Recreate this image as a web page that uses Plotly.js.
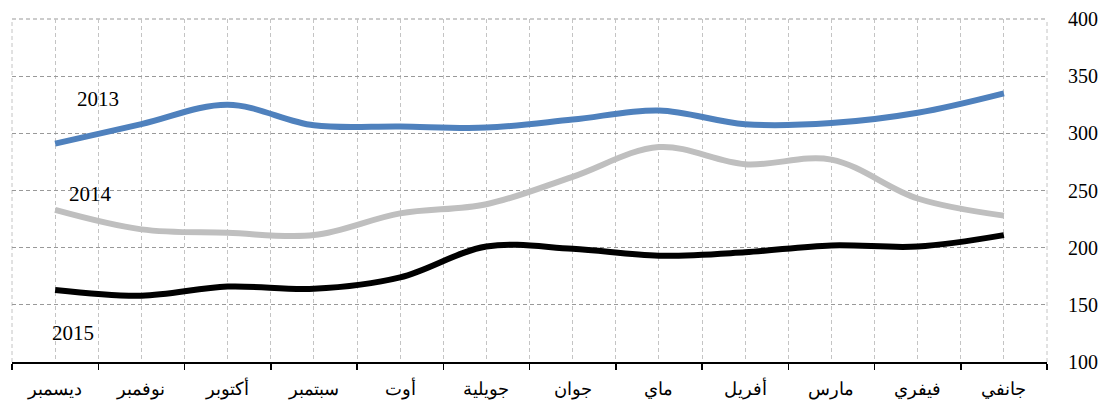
<!DOCTYPE html>
<html>
<head>
<meta charset="utf-8">
<script src="https://cdn.plot.ly/plotly-3.0.1.min.js"></script>
<style>
  html, body { margin: 0; padding: 0; background: #fff; }
  #chart { width: 1100px; height: 401px; }
</style>
</head>
<body>
<div id="chart"></div>
<script>
// Months, January first; the axis runs right-to-left.
const months = ['جانفي', 'فيفري', 'مارس', 'أفريل', 'ماي', 'جوان',
                'جويلية', 'أوت', 'سبتمبر', 'أكتوبر', 'نوفمبر', 'ديسمبر'];

const values2013 = [335, 318, 309, 308, 320, 312, 305, 306, 307, 325, 308, 291];
const values2014 = [228, 243, 277, 273, 288, 262, 238, 230, 211, 213, 216, 233];
const values2015 = [211, 201, 202, 196, 193, 199, 201, 174, 164, 166, 158, 163];

const yearLabels = ['2013', '2014', '2015'];

const idx = months.map((_, i) => i);
const bounds = months.map((_, i) => i - 0.5).concat([months.length - 0.5]);

const serif = 'Liberation Serif, Times New Roman, DejaVu Serif, serif';
const vGrid = '#C4C4C4';
const hGrid = '#999999';
const dash = '4px,3px';

function series(values, color, name) {
  return {
    type: 'scatter', mode: 'lines', name: name,
    x: idx, y: values,
    line: { color: color, width: 6, shape: 'spline', smoothing: 1 },
    hoverinfo: 'skip'
  };
}

const data = [
  series(values2013, '#4F81BD', yearLabels[0]),
  series(values2014, '#BFBFBF', yearLabels[1]),
  series(values2015, '#000000', yearLabels[2])
];

// Dashed grid lines along the plot's top, left and right edges
function edge(x0, y0, x1, y1, color) {
  return {
    type: 'line', xref: 'paper', yref: 'paper', layer: 'below',
    x0: x0, y0: y0, x1: x1, y1: y1,
    line: { color: color, width: 1, dash: dash }
  };
}

const layout = {
  width: 1100, height: 401,
  margin: { l: 12, r: 53, t: 19, b: 39 },
  paper_bgcolor: '#ffffff', plot_bgcolor: '#ffffff',
  showlegend: false,
  font: { family: serif, color: '#000' },
  xaxis: {
    range: [months.length - 0.5, -0.5],
    tickmode: 'array', tickvals: idx, ticktext: months,
    ticks: 'outside', ticklen: 10, tickcolor: 'rgba(0,0,0,0)',
    tickfont: { size: 18, family: serif },
    showgrid: true, gridcolor: vGrid, griddash: dash, gridwidth: 1,
    showline: true, linecolor: '#000', linewidth: 1.5,
    zeroline: false,
    minor: {
      tickmode: 'array', tickvals: bounds,
      ticks: 'outside', ticklen: 6, tickcolor: '#000', tickwidth: 1.5,
      showgrid: true, gridcolor: vGrid, griddash: dash, gridwidth: 1
    },
    fixedrange: true
  },
  yaxis: {
    side: 'right',
    range: [100, 400], dtick: 50, tick0: 100,
    ticks: 'outside', ticklen: 16, tickcolor: 'rgba(0,0,0,0)',
    tickfont: { size: 20, family: serif },
    showgrid: true, gridcolor: hGrid, griddash: dash, gridwidth: 1,
    showline: false, zeroline: false,
    fixedrange: true
  },
  shapes: [
    edge(0, 1, 1, 1, hGrid),
    edge(0, 0, 0, 1, vGrid),
    edge(1, 0, 1, 1, vGrid)
  ],
  annotations: [
    { x: 10.5, y: 330, text: yearLabels[0] },
    { x: 10.59, y: 247, text: yearLabels[1] },
    { x: 10.79, y: 125, text: yearLabels[2] }
  ].map(a => Object.assign({
    xref: 'x', yref: 'y', showarrow: false,
    font: { size: 21, family: serif, color: '#000' }
  }, a))
};

Plotly.newPlot('chart', data, layout, { displayModeBar: false, staticPlot: true });
</script>
</body>
</html>
